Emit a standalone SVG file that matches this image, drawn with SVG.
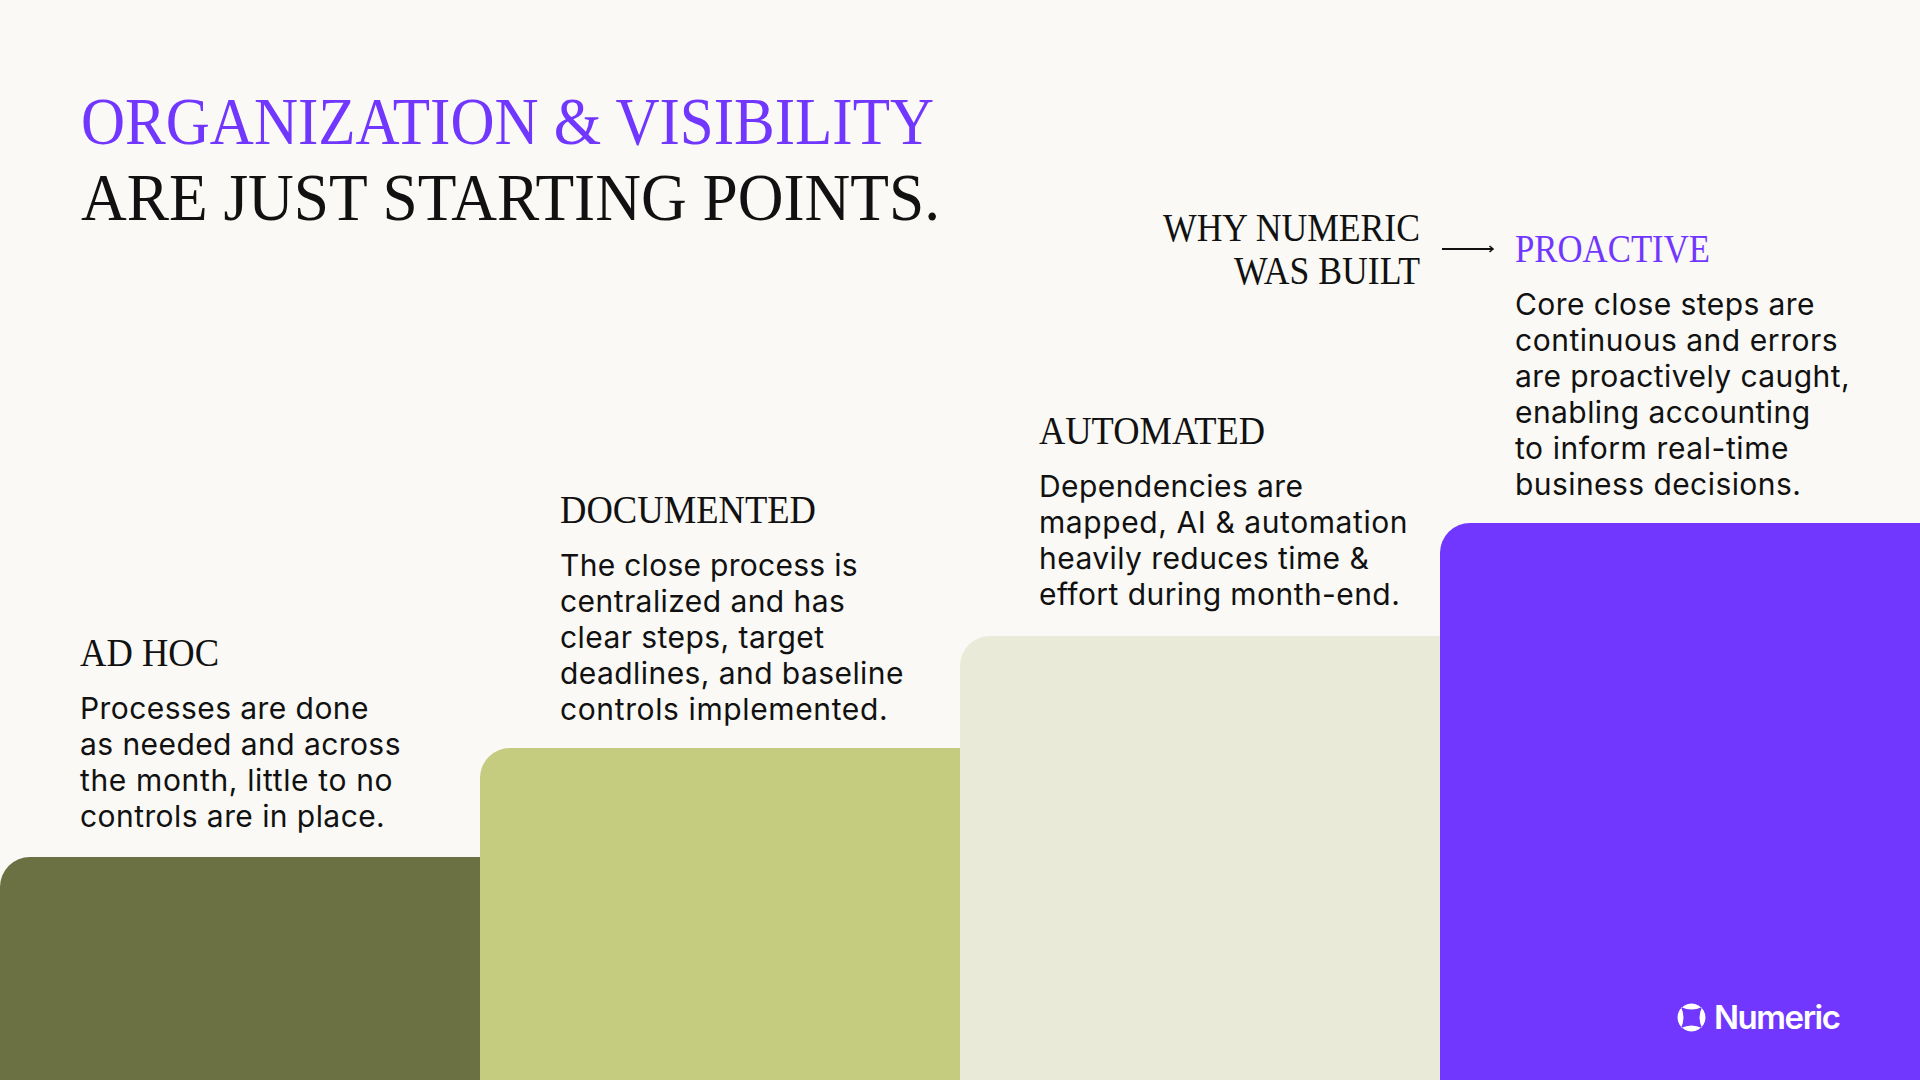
<svg xmlns="http://www.w3.org/2000/svg" width="1920" height="1080" viewBox="0 0 1920 1080">
<style>
.h{font-family:"Liberation Serif",serif;fill:#111}
.t{font-size:67px}
.s{font-size:39px}
.b{font-family:"Inter","Liberation Sans",sans-serif;font-size:30px;fill:#111;letter-spacing:.43px}
.p{fill:#7237FF}
</style>
<defs><marker id="a" markerWidth="8" markerHeight="8" refX="6" refY="4" orient="auto" markerUnits="userSpaceOnUse"><path d="M2.5 1L6 4L2.5 7" fill="none" stroke="#111" stroke-width="1.6"/></marker></defs>
<rect width="1920" height="1080" fill="#FAF9F5"/>
<g id="title">
<text class="h t p" x="81" y="144" textLength="853" lengthAdjust="spacingAndGlyphs">ORGANIZATION &amp; VISIBILITY</text>
<text class="h t" x="81" y="220" textLength="859" lengthAdjust="spacingAndGlyphs">ARE JUST STARTING POINTS.</text>
</g>
<g id="adhoc">
<path d="M0 1080V887a30 30 0 0 1 30-30H480V1080Z" fill="#6B7142"/>
<text class="h s" x="80" y="666" textLength="139" lengthAdjust="spacingAndGlyphs">AD HOC</text>
<text class="b" x="80" y="719">Processes are done</text>
<text class="b" x="80" y="755">as needed and across</text>
<text class="b" x="80" y="791" textLength="313">the month, little to no</text>
<text class="b" x="80" y="827">controls are in place.</text>
</g>
<g id="documented">
<path d="M480 1080V778a30 30 0 0 1 30-30H960V1080Z" fill="#C5CC7F"/>
<text class="h s" x="560" y="523" textLength="256" lengthAdjust="spacingAndGlyphs">DOCUMENTED</text>
<text class="b" x="560" y="576" textLength="298">The close process is</text>
<text class="b" x="560" y="612">centralized and has</text>
<text class="b" x="560" y="648">clear steps, target</text>
<text class="b" x="560" y="684">deadlines, and baseline</text>
<text class="b" x="560" y="720" textLength="328">controls implemented.</text>
</g>
<g id="automated">
<path d="M960 1080V666a30 30 0 0 1 30-30H1440V1080Z" fill="#E9EBD8"/>
<text class="h s" x="1039" y="444" textLength="226" lengthAdjust="spacingAndGlyphs">AUTOMATED</text>
<text class="b" x="1039" y="497">Dependencies are</text>
<text class="b" x="1039" y="533" textLength="369">mapped, AI &amp; automation</text>
<text class="b" x="1039" y="569">heavily reduces time &amp;</text>
<text class="b" x="1039" y="605">effort during month-end.</text>
</g>
<g id="proactive">
<path d="M1440 1080V553a30 30 0 0 1 30-30H1920V1080Z" fill="#7237FF"/>
<text class="h s p" x="1515" y="262" textLength="195" lengthAdjust="spacingAndGlyphs">PROACTIVE</text>
<text class="b" x="1515" y="315">Core close steps are</text>
<text class="b" x="1515" y="351" textLength="323">continuous and errors</text>
<text class="b" x="1515" y="387">are proactively caught,</text>
<text class="b" x="1515" y="423">enabling accounting</text>
<text class="b" x="1515" y="459" textLength="274">to inform real-time</text>
<text class="b" x="1515" y="495">business decisions.</text>
</g>
<g id="why">
<text class="h s" x="1163" y="241" textLength="257" lengthAdjust="spacingAndGlyphs">WHY NUMERIC</text>
<text class="h s" x="1234" y="284" textLength="186" lengthAdjust="spacingAndGlyphs">WAS BUILT</text>
</g>
<g id="connectors"><line x1="1442" y1="249" x2="1493" y2="249" stroke="#111" stroke-width="2" marker-end="url(#a)"/></g>
<g id="logo">
<path fill-rule="evenodd" fill="#fff" d="M1691.5 1003.5a14 14 0 1 1-.01 0ZM1681 1007q10.500 5 21 0q-5 10.500 0 21q-10.500-5-21 0q5-10.500 0-21Z"/>
<text x="1714" y="1029" font-family="Inter,sans-serif" font-weight="600" font-size="33" fill="#fff" textLength="127">Numeric</text>
</g>
</svg>
